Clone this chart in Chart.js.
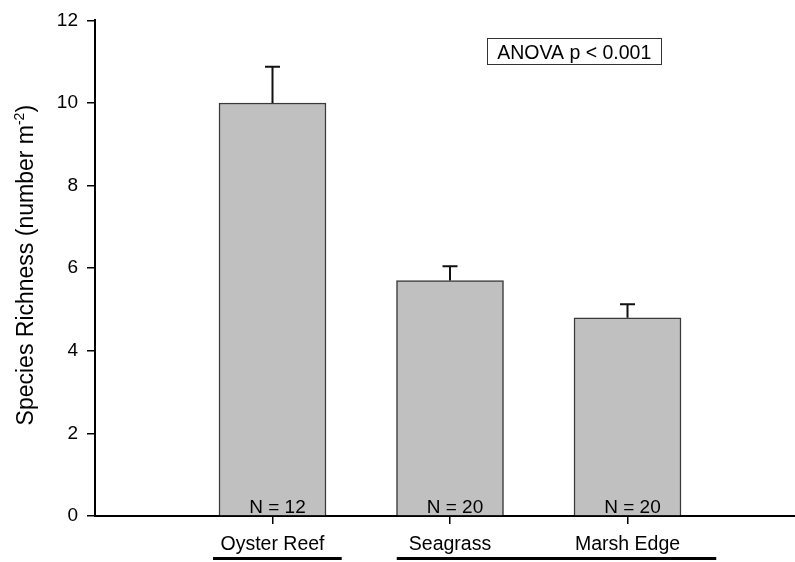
<!DOCTYPE html>
<html>
<head>
<meta charset="utf-8">
<script src="https://cdn.jsdelivr.net/npm/chart.js@4/dist/chart.umd.min.js"></script>
<style>
  html, body { margin: 0; padding: 0; background: #ffffff; }
  canvas { display: block; }
</style>
</head>
<body>
<canvas id="chart" width="795" height="562"></canvas>
<script>
// Species richness by habitat (mean + SE)
const habitats = ['Oyster Reef', 'Seagrass', 'Marsh Edge'];
const meanRichness = [10, 5.7, 4.8];
const stdError = [0.88, 0.35, 0.33];
const sampleSizes = [12, 20, 20];
const yTickValues = [0, 2, 4, 6, 8, 10, 12];
const anovaLabel = 'ANOVA p < 0.001';
// habitats grouped together by the post-hoc comparison (indices into habitats)
const posthocGroups = [[0], [1, 2]];

const FONT = '"Liberation Sans", Arial, Helvetica, sans-serif';

// Bars sit at x = 1, 2, 3 on a linear axis that runs from 0 past the last bar
const barPoints = habitats.map((h, i) => ({ x: i + 1, y: meanRichness[i] }));

const overlay = {
  id: 'overlay',
  afterDatasetsDraw(chart) {
    const { ctx, scales: { x, y } } = chart;
    ctx.save();
    // upper error bars
    ctx.strokeStyle = '#111';
    ctx.lineWidth = 2;
    meanRichness.forEach((m, i) => {
      const px = x.getPixelForValue(i + 1);
      const top = y.getPixelForValue(m);
      const cap = y.getPixelForValue(m + stdError[i]);
      ctx.beginPath();
      ctx.moveTo(px, top);
      ctx.lineTo(px, cap);
      ctx.moveTo(px - 7.5, cap);
      ctx.lineTo(px + 7.5, cap);
      ctx.stroke();
    });
    // sample sizes inside the bar bases
    ctx.fillStyle = '#000';
    ctx.font = '19px ' + FONT;
    ctx.textAlign = 'center';
    ctx.textBaseline = 'alphabetic';
    sampleSizes.forEach((n, i) => {
      const px = x.getPixelForValue(i + 1);
      ctx.fillText('N = ' + n, px + 5, y.getPixelForValue(0) - 3);
    });
    ctx.restore();
  },
  afterDraw(chart) {
    const { ctx, scales: { x, y } } = chart;
    ctx.save();
    // ANOVA result box
    ctx.font = '19.5px ' + FONT;
    const bx = x.getPixelForValue(2.7);
    const by = y.getPixelForValue(11.27);
    const tw = ctx.measureText(anovaLabel).width;
    const boxW = tw + 20, boxH = 26;
    ctx.fillStyle = '#fff';
    ctx.fillRect(bx - boxW / 2, by - boxH / 2, boxW, boxH);
    ctx.strokeStyle = '#333';
    ctx.lineWidth = 1;
    ctx.strokeRect(Math.round(bx - boxW / 2) + 0.5, Math.round(by - boxH / 2) + 0.5, Math.round(boxW), boxH);
    ctx.fillStyle = '#000';
    ctx.textAlign = 'center';
    ctx.textBaseline = 'alphabetic';
    ctx.fillText(anovaLabel, bx, by + 8);

    // post-hoc grouping lines under the category labels
    ctx.strokeStyle = '#000';
    ctx.lineWidth = 3;
    const lineY = 558.5;
    const padL = [0.335, 0.30];
    const padR = [0.39, 0.50];
    posthocGroups.forEach((g, k) => {
      const x0 = x.getPixelForValue(g[0] + 1 - padL[k]);
      const x1 = x.getPixelForValue(g[g.length - 1] + 1 + padR[k]);
      ctx.beginPath();
      ctx.moveTo(x0, lineY);
      ctx.lineTo(x1, lineY);
      ctx.stroke();
    });

    // y-axis title with superscript
    const main = 'Species Richness (number m';
    const sup = '-2';
    const close = ')';
    ctx.fillStyle = '#000';
    ctx.font = '23px ' + FONT;
    const wMain = ctx.measureText(main).width;
    const wClose = ctx.measureText(close).width;
    ctx.font = '14px ' + FONT;
    const wSup = ctx.measureText(sup).width;
    const total = wMain + wSup + wClose;
    const cy = (y.top + y.bottom) / 2 - 3;
    ctx.translate(32.5, cy);
    ctx.rotate(-Math.PI / 2);
    ctx.textAlign = 'left';
    ctx.textBaseline = 'alphabetic';
    let cx = -total / 2;
    ctx.font = '23px ' + FONT;
    ctx.fillText(main, cx, 0);
    cx += wMain;
    ctx.font = '14px ' + FONT;
    ctx.fillText(sup, cx, -9);
    cx += wSup;
    ctx.font = '23px ' + FONT;
    ctx.fillText(close, cx, 0);
    ctx.restore();
  }
};

new Chart(document.getElementById('chart'), {
  type: 'bar',
  data: {
    datasets: [{
      data: barPoints,
      backgroundColor: '#c0c0c0',
      borderColor: '#3a3a3a',
      borderWidth: 1.5,
      borderSkipped: 'bottom',
      barThickness: 107
    }]
  },
  options: {
    responsive: false,
    animation: false,
    devicePixelRatio: 1,
    layout: { padding: { top: 18, left: 0, right: 0, bottom: 0 } },
    plugins: {
      legend: { display: false },
      tooltip: { enabled: false },
      title: { display: false }
    },
    scales: {
      x: {
        type: 'linear',
        z: 1,
        offset: false,
        min: 0,
        max: 700 / 177.5,
        afterBuildTicks(scale) {
          scale.ticks = habitats.map((h, i) => ({ value: i + 1 }));
        },
        afterFit(scale) { scale.height = 46; },
        border: { display: true, color: '#000', width: 2 },
        grid: {
          offset: false,
          drawOnChartArea: false,
          drawTicks: true,
          tickLength: 8,
          color: '#000',
          lineWidth: 1.5
        },
        ticks: {
          autoSkip: false,
          maxRotation: 0,
          padding: 9,
          color: '#000',
          font: { family: FONT, size: 19.5 },
          callback: (v) => habitats[v - 1] ?? ''
        }
      },
      y: {
        min: 0,
        max: 12,
        afterBuildTicks(scale) {
          scale.ticks = yTickValues.map(v => ({ value: v }));
        },
        afterFit(scale) { scale.width = 95; },
        border: { display: true, color: '#000', width: 2 },
        grid: {
          drawOnChartArea: false,
          drawTicks: true,
          tickLength: 8,
          color: '#000',
          lineWidth: 1.5
        },
        ticks: {
          padding: 9,
          color: '#000',
          font: { family: FONT, size: 19 }
        }
      }
    }
  },
  plugins: [overlay]
});
</script>
</body>
</html>
